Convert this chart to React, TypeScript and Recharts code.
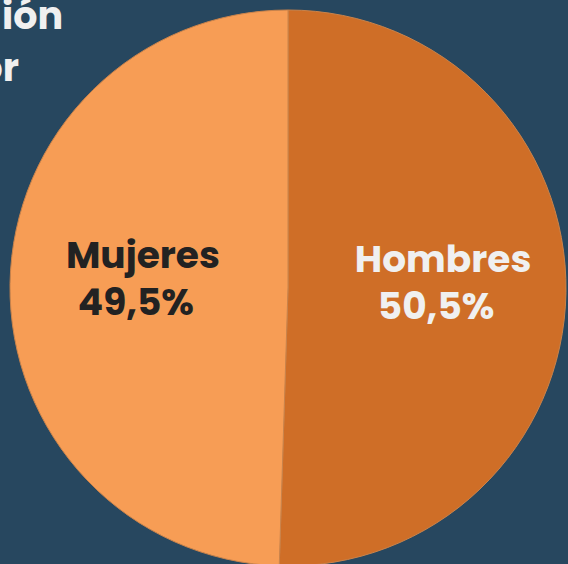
import { PieChart, Pie, Cell } from "recharts";

const categories = ["Hombres", "Mujeres"];
const shares = [50.5, 49.5];
const shareLabels = ["50,5%", "49,5%"];
const titleLines = ["ión", "or"];

const colors = ["#cf6e27", "#f79d55"];
const labelColors = ["#f0f0f0", "#222222"];

const data = categories.map((name, i) => ({
  name,
  value: shares[i],
  label: shareLabels[i],
}));

const FONT = "Poppins, 'Open Sans', sans-serif";
const RADIAN = Math.PI / 180;

const renderLabel = (props: any) => {
  const { cx, cy, midAngle, outerRadius, index } = props;
  const r = outerRadius * 0.54;
  const x = cx + r * Math.cos(-midAngle * RADIAN) + 5;
  const y = cy + r * Math.sin(-midAngle * RADIAN);
  return (
    <text
      x={x}
      y={y}
      textAnchor="middle"
      fill={labelColors[index]}
      fontFamily={FONT}
      fontWeight={700}
      fontSize={37.5}
    >
      <tspan x={x} dy={-18}>
        {data[index].name}
      </tspan>
      <tspan x={x - 7} dy={47}>
        {data[index].label}
      </tspan>
    </text>
  );
};

const App = () => {
  return (
    <div
      style={{
        position: "fixed",
        top: 0,
        left: 0,
        width: 568,
        height: 564,
        background: "#27475f",
        overflow: "hidden",
      }}
    >
      <PieChart
        width={568}
        height={564}
        margin={{ top: 0, right: 0, bottom: 0, left: 0 }}
      >
        <text
          x={63}
          y={29}
          textAnchor="end"
          fill="#f0f0f0"
          fontFamily={FONT}
          fontWeight={700}
          fontSize={38}
        >
          {titleLines[0]}
        </text>
        <text
          x={19}
          y={81}
          textAnchor="end"
          fill="#f0f0f0"
          fontFamily={FONT}
          fontWeight={700}
          fontSize={38}
        >
          {titleLines[1]}
        </text>
        <Pie
          data={data}
          dataKey="value"
          nameKey="name"
          cx={288}
          cy={288}
          outerRadius={278}
          startAngle={90}
          endAngle={-270}
          stroke="#c9834b"
          strokeWidth={1}
          labelLine={false}
          label={renderLabel}
          isAnimationActive={false}
        >
          {data.map((d, i) => (
            <Cell key={d.name} fill={colors[i]} />
          ))}
        </Pie>
      </PieChart>
    </div>
  );
};

export default App;
